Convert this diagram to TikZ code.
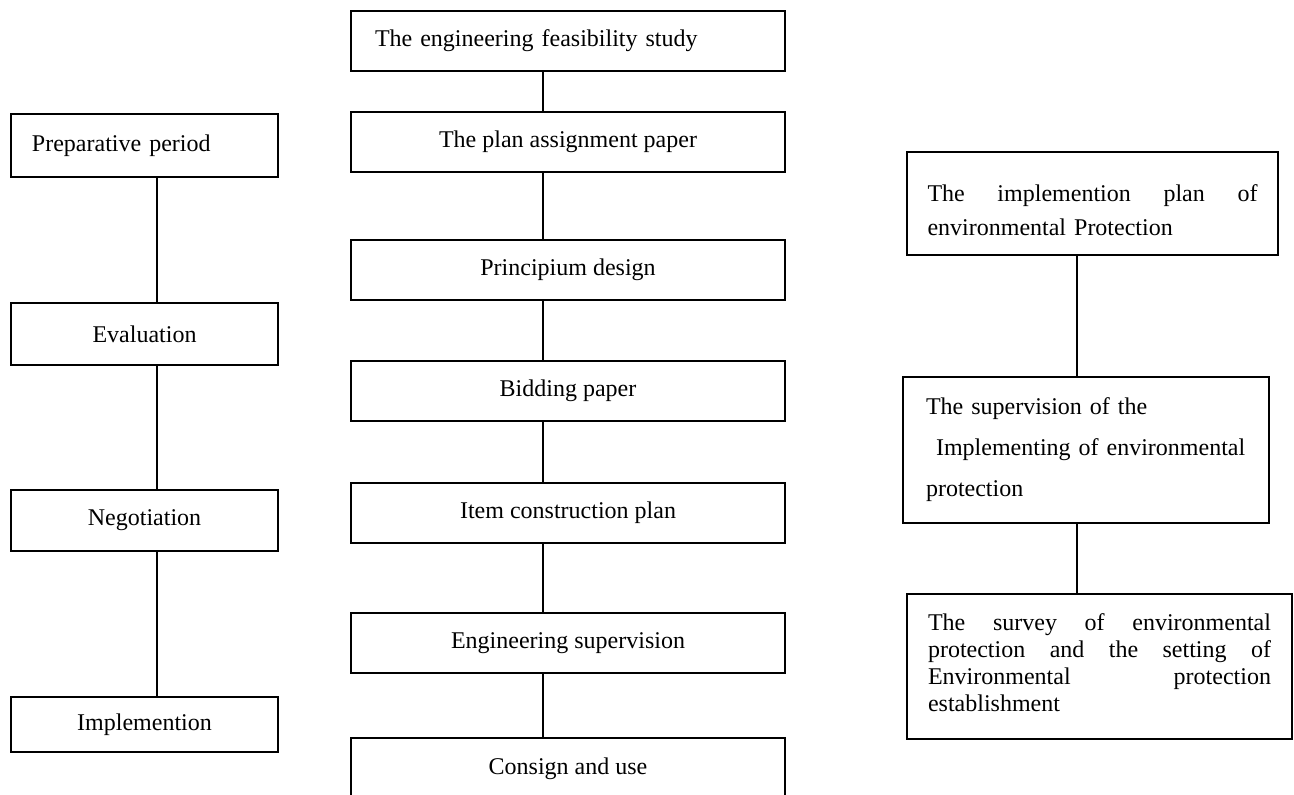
\documentclass[tikz,border=0pt]{standalone}
\usepackage{fontspec}
\setmainfont{Liberation Serif}
% one line stretched to the full text width of its node
\newcommand\fullline[1]{\leavevmode\hbox to \hsize{\spaceskip=0.25em plus 1fil\relax #1}}
\begin{document}
\begin{tikzpicture}[x=0.5pt,y=-0.5pt,
  stage/.style={draw, line width=0.9pt, rectangle, outer sep=0pt, inner ysep=0pt,
    font=\fontsize{12}{14}\selectfont},
  leftstage/.style={stage, minimum width=133.5pt, align=center},
  midstage/.style={stage, minimum width=217pt, minimum height=30pt, align=center},
  link/.style={line width=0.9pt}]
\useasboundingbox (0,0) rectangle (1294,794);
\clip (0,0) rectangle (1294,794);

% left column: project periods
\node[stage, text width=112.5pt, inner xsep=10.5pt, align=left, minimum height=31.5pt]
  (L1) at (144.5,145.5) {Preparative period};
\node[leftstage, minimum height=31pt]   (L2) at (144.5,334)   {Evaluation};
\node[leftstage, minimum height=30.5pt] (L3) at (144.5,520.5) {Negotiation};
\node[leftstage, minimum height=27.5pt] (L4) at (144.5,724.5) {Implemention};

% middle column: engineering procedure
\node[stage, text width=193pt, inner xsep=12pt, align=left, minimum height=30pt]
  (M1) at (568,41) {The engineering feasibility study};
\node[midstage] (M2) at (568,142) {The plan assignment paper};
\node[midstage] (M3) at (568,270) {Principium design};
\node[midstage] (M4) at (568,391) {Bidding paper};
\node[midstage] (M5) at (568,513) {Item construction plan};
\node[midstage] (M6) at (568,643) {Engineering supervision};
\node[midstage, minimum height=31pt] (M7) at (568,769) {Consign and use};

% right column: environmental protection
\node[stage, text width=165pt, inner xsep=10.25pt, minimum height=51.5pt, align=left,
  font=\fontsize{12}{17}\selectfont]
  (R1) at (1092.5,203.5)
  {\rule{0pt}{15pt}\fullline{The implemention plan of}\\ environmental Protection};
\node[stage, text width=160pt, inner xsep=11.5pt, minimum height=73pt, align=left,
  font=\fontsize{12}{20.5}\selectfont]
  (R2) at (1086,450)
  {The supervision of the\\ \hspace*{5pt}Implementing of environmental\\ protection};
\node[stage, text width=171.5pt, inner xsep=10.5pt, minimum height=72.5pt, align=left,
  font=\fontsize{12}{13.5}\selectfont]
  (R3) at (1099.5,666.5)
  {\fullline{The survey of environmental}\\
   \fullline{protection and the setting of}\\
   \fullline{Environmental protection}\\
   establishment\rule[-4pt]{0pt}{0pt}};

% connector columns
\coordinate (lx) at (157,0);
\coordinate (mx) at (543,0);
\coordinate (rx) at (1077,0);

\draw[link] (L1.south -| lx) -- (L2.north -| lx);
\draw[link] (L2.south -| lx) -- (L3.north -| lx);
\draw[link] (L3.south -| lx) -- (L4.north -| lx);

\draw[link] (M1.south -| mx) -- (M2.north -| mx);
\draw[link] (M2.south -| mx) -- (M3.north -| mx);
\draw[link] (M3.south -| mx) -- (M4.north -| mx);
\draw[link] (M4.south -| mx) -- (M5.north -| mx);
\draw[link] (M5.south -| mx) -- (M6.north -| mx);
\draw[link] (M6.south -| mx) -- (M7.north -| mx);

\draw[link] (R1.south -| rx) -- (R2.north -| rx);
\draw[link] (R2.south -| rx) -- (R3.north -| rx);
\end{tikzpicture}
\end{document}
